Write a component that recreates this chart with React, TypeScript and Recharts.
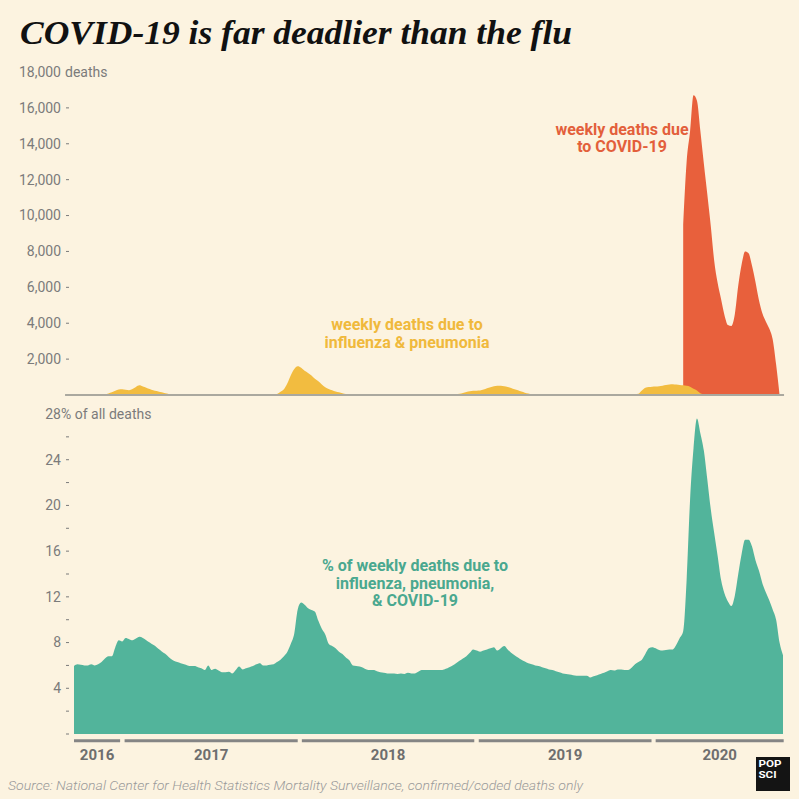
import React from 'react';
import { AreaChart, Area, XAxis, YAxis, ReferenceLine } from 'recharts';

// ---- Data (weekly, week 0 = late Sep 2016, week 206 = mid Sep 2020) ----
const fluDeaths: number[] = [
  // w0-13
  10, 10, 10, 12, 12, 12, 15, 15, 15, 40, 90, 150, 240, 300,
  // w14-29
  320, 290, 270, 330, 450, 540, 480, 410, 340, 270, 220, 170, 130, 80, 40, 15,
  // w30-56
  12, 10, 10, 10, 8, 8, 8, 8, 8, 8, 8, 8, 8, 8, 8, 8, 8, 8, 8, 8, 10, 10, 10, 10, 12, 12, 15,
  // w57-81
  15, 25, 60, 180, 320, 650, 1100, 1450, 1600, 1520, 1350, 1230, 1080, 900, 760, 580, 430, 340, 270, 200, 150, 100, 50, 25, 15,
  // w82-108
  12, 10, 10, 10, 8, 8, 8, 8, 8, 8, 8, 8, 8, 8, 8, 8, 8, 8, 8, 8, 10, 10, 10, 10, 12, 12, 12,
  // w109-134
  15, 20, 35, 70, 110, 170, 210, 230, 240, 250, 300, 380, 430, 490, 520, 520, 490, 450, 390, 320, 260, 190, 130, 80, 35, 15,
  // w135-158
  12, 10, 10, 10, 8, 8, 8, 8, 8, 8, 8, 8, 8, 8, 8, 8, 8, 8, 10, 10, 10, 10, 12, 12,
  // w159-184
  15, 15, 20, 25, 40, 70, 250, 400, 440, 460, 470, 490, 520, 560, 590, 600, 580, 560, 540, 510, 460, 350, 250, 100, 25, 10,
  // w185-206
  5, 5, 5, 5, 5, 5, 5, 5, 5, 5, 5, 5, 5, 5, 5, 5, 5, 5, 5, 5, 5, 5,
];

const covidStartWeek = 177;
// w177 .. w205 (no value reported for the last week)
const covidDeaths: number[] = [
  9500, 13000, 14700, 16700, 16400, 14700, 12900, 11200, 9450, 7500,
  6250, 5350, 4450, 3900, 3850, 4500, 6100, 7300, 8000, 7900,
  7200, 6300, 5300, 4550, 4100, 3700, 3100, 1700, 0,
];

const sharePct: number[] = [
  5.95, 6.1, 6.05, 6.0, 6.0, 6.1, 6.0, 6.1, 6.3, 6.6,
  6.8, 6.8, 7.6, 8.2, 8.1, 8.4, 8.3, 8.2, 8.35, 8.5,
  8.4, 8.2, 8.0, 7.8, 7.6, 7.35, 7.1, 6.9, 6.6, 6.4,
  6.3, 6.2, 6.1, 6.0, 5.95, 5.95, 5.85, 5.75, 5.6, 6.0,
  5.6, 5.7, 5.55, 5.4, 5.4, 5.45, 5.3, 5.6, 5.9, 5.65,
  5.75, 5.85, 5.95, 6.1, 6.2, 6.0, 6.0, 6.05, 6.1, 6.3,
  6.5, 6.8, 7.2, 7.9, 8.8, 10.9, 11.5, 11.3, 11.0, 10.85,
  10.7, 9.9, 9.2, 8.7, 7.9, 7.7, 7.5, 7.2, 7.0, 6.7,
  6.45, 6.0, 5.95, 5.9, 5.8, 5.65, 5.6, 5.6, 5.5, 5.4,
  5.35, 5.3, 5.3, 5.3, 5.25, 5.3, 5.25, 5.35, 5.3, 5.3,
  5.45, 5.6, 5.6, 5.6, 5.6, 5.6, 5.6, 5.6, 5.7, 5.85,
  6.0, 6.2, 6.4, 6.6, 6.8, 7.1, 7.4, 7.3, 7.2, 7.3,
  7.4, 7.5, 7.6, 7.3, 7.5, 7.7, 7.4, 7.1, 6.9, 6.7,
  6.5, 6.35, 6.2, 6.1, 6.0, 5.95, 5.85, 5.75, 5.65, 5.6,
  5.5, 5.4, 5.3, 5.25, 5.2, 5.15, 5.1, 5.1, 5.1, 5.1,
  4.95, 5.05, 5.15, 5.25, 5.35, 5.5, 5.6, 5.55, 5.65, 5.65,
  5.6, 5.6, 5.8, 6.1, 6.3, 6.5, 7.0, 7.5, 7.6, 7.5,
  7.35, 7.3, 7.35, 7.4, 7.4, 7.8, 8.4, 9.0, 13.5, 20.5,
  25.0, 27.6, 26.3, 24.8, 22.3, 19.7, 17.6, 15.6, 13.5, 12.3,
  11.6, 11.2, 12.1, 14.0, 15.8, 17.0, 17.0, 16.4, 15.2, 14.3,
  13.2, 12.4, 11.7, 10.9, 10.0, 8.0, 6.9,
];

const deathTicks = [0, 2000, 4000, 6000, 8000, 10000, 12000, 14000, 16000, 18000];
const pctTicks = [0, 2, 4, 6, 8, 10, 12, 14, 16, 18, 20, 22, 24, 26, 28];
const yearLabels = ['2016', '2017', '2018', '2019', '2020'];
const yearStartWeeks = [0, 14.7, 66.2, 117.6, 169.0];
const yearEndWeeks = [13.4, 65.0, 116.3, 167.8, 206.2];

const BG = '#fcf3e0';
const FLU = '#f2bc40';
const COVID = '#e8603c';
const TEAL = '#52b49b';
const AXIS_TEXT = '#7b7b7b';
const FONT = "Roboto, 'Noto Sans', sans-serif";

const data = sharePct.map((pct, i) => {
  const ci = i - covidStartWeek;
  return {
    week: i,
    pct,
    flu: fluDeaths[i],
    covid: ci >= 0 && ci < covidDeaths.length ? covidDeaths[ci] : null,
  };
});

const fmt = (v: number) => v.toLocaleString('en-US');

const TopTick = (props: any) => {
  const { x, y, payload } = props;
  const v = payload.value;
  if (v === 0) return <g />;
  if (v === 18000) {
    return (
      <g>
        <text x={x - 13} y={y} dy="0.35em" textAnchor="end" fill={AXIS_TEXT} fontSize={14} fontFamily={FONT}>{fmt(v)}</text>
        <text x={x - 9} y={y} dy="0.35em" textAnchor="start" fill={AXIS_TEXT} fontSize={14} fontFamily={FONT}>deaths</text>
      </g>
    );
  }
  return (
    <g>
      <text x={x - 13} y={y} dy="0.35em" textAnchor="end" fill={AXIS_TEXT} fontSize={14} fontFamily={FONT}>{fmt(v)}</text>
      <line x1={x - 8} x2={x - 5} y1={y} y2={y} stroke={AXIS_TEXT} strokeWidth={1} />
    </g>
  );
};

const BottomTick = (props: any) => {
  const { x, y, payload } = props;
  const v = payload.value;
  if (v === 28) {
    return (
      <g>
        <text x={x - 13} y={y} dy="0.35em" textAnchor="end" fill={AXIS_TEXT} fontSize={14} fontFamily={FONT}>{v}</text>
        <text x={x - 13} y={y} dy="0.35em" textAnchor="start" fill={AXIS_TEXT} fontSize={14} fontFamily={FONT}>% of all deaths</text>
      </g>
    );
  }
  const labeled = v > 0 && v % 4 === 0;
  return (
    <g>
      {labeled && (
        <text x={x - 13} y={y} dy="0.35em" textAnchor="end" fill={AXIS_TEXT} fontSize={14} fontFamily={FONT}>{v}</text>
      )}
      <line x1={x - 8} x2={x - 5} y1={y} y2={y} stroke={AXIS_TEXT} strokeWidth={1} />
    </g>
  );
};

export default function App() {
  return (
    <div style={{ position: 'absolute', left: 0, top: 0, width: 799, height: 799, background: BG, overflow: 'hidden', fontFamily: FONT }}>
      <div style={{ position: 'absolute', left: 0, top: 0 }}>
        <AreaChart width={799} height={400} data={data} margin={{ top: 72, right: 16, bottom: 5, left: 0 }}>
          <XAxis type="number" dataKey="week" domain={[0, 206]} hide allowDataOverflow />
          <YAxis
            domain={[0, 18000]}
            ticks={deathTicks}
            interval={0}
            width={74}
            axisLine={false}
            tickLine={false}
            tickSize={0}
            tickMargin={0}
            tick={<TopTick />}
          />
          <ReferenceLine segment={[{ x: -2.6, y: 0 }, { x: 206.3, y: 0 }]} stroke="#aaa89f" strokeWidth={2} ifOverflow="visible" />
          <Area type="monotone" dataKey="covid" stroke="none" fill={COVID} fillOpacity={1} isAnimationActive={false} connectNulls={false} />
          <Area type="monotone" dataKey="flu" stroke="none" fill={FLU} fillOpacity={1} isAnimationActive={false} />
        </AreaChart>
      </div>
      <div style={{ position: 'absolute', left: 0, top: 400 }}>
        <AreaChart width={799} height={399} data={data} margin={{ top: 14, right: 16, bottom: 65, left: 0 }}>
          <XAxis type="number" dataKey="week" domain={[0, 206]} hide allowDataOverflow />
          <YAxis
            domain={[0, 28]}
            ticks={pctTicks}
            interval={0}
            width={74}
            axisLine={false}
            tickLine={false}
            tickSize={0}
            tickMargin={0}
            tick={<BottomTick />}
          />
          <Area type="monotone" dataKey="pct" stroke="none" fill={TEAL} fillOpacity={1} isAnimationActive={false} />
          {yearLabels.map((label, i) => (
            <ReferenceLine
              key={label}
              segment={[{ x: yearStartWeeks[i], y: -0.6 }, { x: yearEndWeeks[i], y: -0.6 }]}
              stroke="#858585"
              strokeWidth={3}
              ifOverflow="visible"
              label={{ value: label, position: 'bottom', offset: 8.5, fill: '#6e6e6e', fontSize: 15, fontWeight: 700, fontFamily: FONT }}
            />
          ))}
        </AreaChart>
      </div>
      <svg width={799} height={799} style={{ position: 'absolute', left: 0, top: 0, pointerEvents: 'none' }}>
        <text x={20} y={43.5} fontFamily="'Liberation Serif', 'DejaVu Serif', serif" fontWeight={700} fontStyle="italic" fontSize={34} fill="#111" textLength={552} lengthAdjust="spacingAndGlyphs">
          COVID-19 is far deadlier than the flu
        </text>
        <g fontFamily={FONT} fontWeight={700} fontSize={16} textAnchor="middle">
          <text x={407} y={329.5} fill="#f0b93c">weekly deaths due to</text>
          <text x={407} y={347.5} fill="#f0b93c">influenza &amp; pneumonia</text>
          <text x={622} y={134.5} fill="#e35f3b">weekly deaths due</text>
          <text x={622} y={152} fill="#e35f3b">to COVID-19</text>
          <text x={415} y={570.5} fill="#4aa88f">% of weekly deaths due to</text>
          <text x={415} y={588.5} fill="#4aa88f">influenza, pneumonia,</text>
          <text x={415} y={606} fill="#4aa88f">&amp; COVID-19</text>
        </g>
        <text x={8} y={790} fontFamily={FONT} fontStyle="italic" fontWeight={300} fontSize={13} fill="#9a9a9a" textLength={575} lengthAdjust="spacingAndGlyphs">
          Source: National Center for Health Statistics Mortality Surveillance, confirmed/coded deaths only
        </text>
        <rect x={756} y={757} width={34} height={34} fill="#141414" />
        <text x={758.5} y={767} fontFamily={FONT} fontWeight={700} fontSize={9.5} fill="#fff" textLength={23} lengthAdjust="spacingAndGlyphs">POP</text>
        <text x={758.5} y={777.5} fontFamily={FONT} fontWeight={700} fontSize={9.5} fill="#fff" textLength={18} lengthAdjust="spacingAndGlyphs">SCI</text>
      </svg>
    </div>
  );
}
